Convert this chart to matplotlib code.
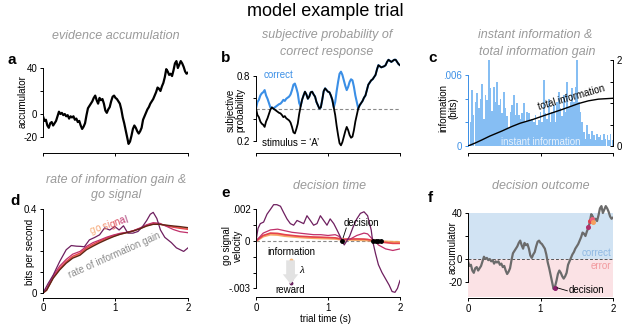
import numpy as np
import matplotlib
matplotlib.use('Agg')
import matplotlib.pyplot as plt
from matplotlib.textpath import TextToPath
from matplotlib.font_manager import FontProperties

plt.rcParams['font.family'] = ['Liberation Sans', 'DejaVu Sans']
plt.rcParams['font.size'] = 7
plt.rcParams['axes.linewidth'] = 0.7
for a in ['xtick', 'ytick']:
    plt.rcParams[a + '.major.width'] = 0.7
    plt.rcParams[a + '.major.size'] = 2.5
    plt.rcParams[a + '.major.pad'] = 1.5
    plt.rcParams[a + '.labelsize'] = 7

# ---------------- data ----------------
acc_time = np.linspace(0, 2, 101)
accumulator = [-2, -6, -5, -10, -12, -8, -7, -10, -8, -6,
               -2, 2, 0, 1, -1, 0, -2, -1, -4, -2,
               -3, -2, -5, -4, -7, -6, -10, -13, -11, -8,
               -1, 5, 7, 9, 11, 14, 16, 12, 9, 14,
               12, 13, 9, 3, 1, 4, 6, 11, 15, 16,
               14, 13, 11, 9, 4, -3, -8, -14, -20, -26,
               -24, -19, -13, -10, -12, -15, -17, -15, -12, -5,
               -2, 1, 4, 6, 9, 11, 13, 16, 19, 23,
               22, 20, 24, 27, 32, 39, 37, 34, 35, 33,
               38, 44, 46, 40, 43, 46, 44, 41, 37, 35, 36]

subj_prob = [0.50, 0.44, 0.42, 0.38, 0.36, 0.35, 0.33, 0.38, 0.41, 0.45,
             0.49, 0.51, 0.50, 0.49, 0.48, 0.47, 0.46, 0.455, 0.44, 0.42,
             0.43, 0.41, 0.40, 0.39, 0.37, 0.33, 0.28, 0.27, 0.31, 0.36,
             0.45, 0.52, 0.58, 0.62, 0.655, 0.63, 0.59, 0.61, 0.65, 0.655,
             0.63, 0.61, 0.56, 0.53, 0.50, 0.51, 0.58, 0.66, 0.686, 0.67,
             0.655, 0.65, 0.62, 0.58, 0.51, 0.44, 0.34, 0.255, 0.18, 0.16,
             0.19, 0.24, 0.29, 0.33, 0.30, 0.255, 0.23, 0.24, 0.30, 0.38,
             0.44, 0.50, 0.53, 0.55, 0.57, 0.60, 0.62, 0.67, 0.72, 0.74,
             0.76, 0.77, 0.79, 0.81, 0.86, 0.90, 0.89, 0.88, 0.885, 0.89,
             0.90, 0.93, 0.95, 0.94, 0.93, 0.94, 0.95, 0.95, 0.93, 0.91, 0.90]

instant_info = [3.5, 2.0, 4.7, 2.6, 3.7, 4.5, 3.2, 4.0, 5.2, 2.3,
                4.3, 3.9, 7.3, 4.9, 3.0, 5.0, 3.7, 5.4, 3.5, 4.0,
                2.8, 4.6, 3.2, 2.5, 1.5, 2.9, 3.5, 4.3, 2.6, 3.6,
                2.6, 2.3, 2.8, 3.6, 2.0, 2.9, 2.8, 2.2, 2.3, 2.0,
                2.6, 1.8, 2.2, 2.9, 2.0, 5.6, 2.8, 2.3, 4.0, 2.0,
                2.9, 3.5, 2.0, 3.7, 4.6, 3.2, 2.5, 4.3, 2.9, 5.4,
                3.3, 3.7, 4.9, 3.7, 5.0, 7.3, 3.7, 2.9, 2.0, 1.2,
                0.6, 1.8, 1.0, 0.6, 1.3, 0.9, 0.5, 1.0, 0.8, 0.9,
                0.5, 1.0, 0.6, 0.9, 0.5, 1.0, 0.5]  # x 1e-3 bits
total_info_t = [0, 0.1, 0.19, 0.3, 0.47, 0.6, 0.72, 0.9, 1.07, 1.3, 1.53, 1.66, 1.8, 2.0]
total_info = [0, 0.07, 0.14, 0.23, 0.35, 0.45, 0.53, 0.62, 0.72, 0.85, 0.99, 1.05, 1.09, 1.11]

rate_t = [0, 0.05, 0.14, 0.23, 0.32, 0.41, 0.51, 0.6, 0.69, 0.78, 0.88, 0.97,
          1.06, 1.15, 1.24, 1.34, 1.43, 1.52, 1.61, 1.7, 1.8, 1.89, 2.0]
rate_info = [0, 0.013, 0.07, 0.11, 0.142, 0.166, 0.18, 0.206, 0.223, 0.239, 0.255, 0.268,
             0.279, 0.287, 0.295, 0.306, 0.319, 0.327, 0.327, 0.323, 0.319, 0.316, 0.311]
go_orange = [0, 0.014, 0.072, 0.113, 0.146, 0.17, 0.185, 0.21, 0.227, 0.243, 0.258, 0.27,
             0.28, 0.287, 0.295, 0.307, 0.32, 0.328, 0.328, 0.322, 0.316, 0.312, 0.307]
go_red = [0, 0.015, 0.075, 0.118, 0.15, 0.175, 0.19, 0.215, 0.232, 0.247, 0.262, 0.273,
          0.282, 0.288, 0.295, 0.308, 0.322, 0.33, 0.328, 0.32, 0.313, 0.308, 0.303]
go_magenta = [0, 0.02, 0.082, 0.128, 0.16, 0.185, 0.198, 0.222, 0.24, 0.252, 0.266, 0.276,
              0.284, 0.289, 0.296, 0.31, 0.325, 0.335, 0.332, 0.318, 0.302, 0.292, 0.287]
purple_t = [0, 0.07, 0.14, 0.23, 0.32, 0.39, 0.46, 0.52, 0.57, 0.64, 0.71, 0.78, 0.85, 0.92,
            0.99, 1.05, 1.11, 1.17, 1.24, 1.31, 1.37, 1.43, 1.48, 1.52, 1.57, 1.62, 1.68,
            1.77, 1.84, 1.94, 2.0]
go_purple = [0, 0.045, 0.085, 0.15, 0.206, 0.226, 0.223, 0.222, 0.22, 0.253, 0.264, 0.277,
             0.31, 0.3, 0.317, 0.3, 0.32, 0.285, 0.285, 0.293, 0.315, 0.345, 0.375, 0.384,
             0.355, 0.3, 0.265, 0.24, 0.215, 0.198, 0.215]

vel_purple_t = [0, 0.028, 0.06, 0.106, 0.153, 0.2, 0.245, 0.29, 0.34, 0.384, 0.43, 0.477,
                0.523, 0.57, 0.616, 0.662, 0.708, 0.755, 0.8, 0.847, 0.894, 0.94, 0.986,
                1.03, 1.08, 1.125, 1.157, 1.2, 1.225, 1.26, 1.3, 1.35, 1.4, 1.45, 1.5,
                1.55, 1.6, 1.62, 1.66, 1.7, 1.75, 1.8, 1.85, 1.89, 1.93, 1.965, 2.0]
vel_purple = [0, 0.8, 1.1, 1.2, 1.7, 2.0, 2.3, 2.3, 2.2, 1.8, 1.4, 1.1,
              1.0, 1.3, 1.2, 1.1, 1.6, 1.3, 1.0, 1.1, 1.6, 1.3, 1.0,
              1.4, 1.1, 0.7, 0.4, 0.0, -0.25, 0.0, 0.3, 0.9, 1.4, 1.75, 1.85,
              1.6, 0.7, 0.0, -0.8, -1.5, -2.0, -2.4, -2.8, -3.2, -3.25, -3.0, -2.5]  # x 1e-3
vel_t = [0, 0.1, 0.2, 0.3, 0.4, 0.5, 0.6, 0.7, 0.8, 0.9, 1.0, 1.1, 1.15, 1.2, 1.25,
         1.3, 1.4, 1.5, 1.55, 1.6, 1.65, 1.7, 1.8, 1.9, 2.0]
vel_magenta = [0, 0.5, 0.7, 0.75, 0.65, 0.55, 0.5, 0.45, 0.4, 0.4, 0.35, 0.4, 0.3, 0.05, 0.1,
               0.1, 0.35, 0.5, 0.45, 0.2, 0.0, -0.25, -0.5, -0.6, -0.5]
vel_red = [0, 0.35, 0.5, 0.48, 0.4, 0.35, 0.3, 0.28, 0.25, 0.24, 0.22, 0.2, 0.15, 0.1, 0.11,
           0.12, 0.13, 0.12, 0.1, 0.05, 0.0, -0.05, -0.1, -0.15, -0.15]
vel_orange = [0, 0.3, 0.42, 0.4, 0.33, 0.29, 0.25, 0.22, 0.2, 0.18, 0.17, 0.15, 0.12, 0.1, 0.09,
              0.09, 0.08, 0.06, 0.05, 0.03, 0.01, -0.02, -0.05, -0.07, -0.08]

decision_e_t = [1.2, 1.62, 1.66, 1.70, 1.74]
decision_f_t = [1.2, 1.65, 1.68, 1.71, 1.73]
decision_f_v = [-25, 27.6, 33, 34.8, 32.4]

# colours
PURPLE = '#6e1f5f'
MAGENTA = '#c0306a'
RED = '#e5424d'
ORANGE = '#f5a05a'
BROWN = '#5e2418'
GRAY_T = '#9a9a9a'
BLUE = '#3b8fe6'

W, H = 623, 329
fig = plt.figure(figsize=(W / 100, H / 100), dpi=100)


def add_ax(x0, y0, x1, y1):
    return fig.add_axes([x0 / W, 1 - y1 / H, (x1 - x0) / W, (y1 - y0) / H])


def ftext(x, y, s, **kw):
    return fig.text(x / W, 1 - y / H, s, **kw)


def style(ax, ylim, yticks, ylabels, ybounds, out_px, xlabels=False):
    ax.set_xlim(0, 2)
    ax.set_ylim(*ylim)
    for s in ['top', 'right']:
        ax.spines[s].set_visible(False)
    ax.spines['bottom'].set_position(('outward', out_px * 0.72))
    ax.spines['bottom'].set_bounds(0, 2)
    ax.spines['left'].set_bounds(*ybounds)
    ax.set_xticks([0, 1, 2])
    ax.set_xticklabels(['0', '1', '2'] if xlabels else ['', '', ''])
    ax.set_yticks(yticks)
    ax.set_yticklabels(ylabels)
    ax.patch.set_alpha(0)


# ---------------- a ----------------
axa = add_ax(43, 58.8, 188, 148.5)
axa.plot(acc_time, accumulator, color='black', lw=1.6)
style(axa, (-30, 48), [-20, 0, 20, 40], ['-20', '0', '', '40'], (-20, 40), 4.5)

# ---------------- b ----------------
axb = add_ax(256, 57.6, 400, 147.5)
p = np.array(subj_prob)
correct = np.maximum(p, 1 - p)
axb.axhline(0.5, color='#8a8a8a', lw=0.8, ls=(0, (3, 2)))
axb.plot(acc_time, correct, color=BLUE, lw=1.5)
axb.plot(acc_time, p, color='black', lw=1.3)
style(axb, (0.14, 0.97), [0.2, 0.4, 0.6, 0.8], ['0.2', '', '', '0.8'], (0.2, 0.8), 5.5)
axb.text(0.1, 0.81, 'correct', color=BLUE, fontsize=7, va='center')
axb.text(0.08, 0.18, 'stimulus = \u2018A\u2019', color='black', fontsize=7, va='center')

# ---------------- c ----------------
axc = add_ax(468, 60, 613, 146)
bar_t = np.linspace(0.01, 1.99, len(instant_info))
axc.bar(bar_t, np.array(instant_info) * 1e-3, width=0.021, color='#86bef3', lw=0)
style(axc, (0, 0.00727), [0, 0.002, 0.004, 0.006], ['0', '', '', '.006'], (0, 0.006), 7)
axc.spines['left'].set_color(BLUE)
axc.tick_params(axis='y', colors=BLUE)
axc2 = axc.twinx()
axc2.set_ylim(0, 2)
axc2.set_xlim(0, 2)
axc2.plot(total_info_t, total_info, color='black', lw=1.0)
for s in ['top', 'left', 'bottom']:
    axc2.spines[s].set_visible(False)
axc2.spines['right'].set_bounds(0, 2)
axc2.set_yticks([0, 0.5, 1, 1.5, 2])
axc2.set_yticklabels(['0', '', '', '', '2'])
axc2.tick_params(axis='y', direction='in', length=2.5, pad=2.5, labelsize=7, colors='black')
axc.text(1.0, 0.00036, 'instant information', color='#e8f2fd', fontsize=7, ha='center', va='center')
axc.text(1.43, 0.0041, 'total information', color='black', fontsize=7, ha='center', va='center',
         rotation=16, rotation_mode='anchor')

# ---------------- d ----------------
axd = add_ax(43, 209, 188, 293)
axd.plot(rate_t, go_orange, color=ORANGE, lw=1.0)
axd.plot(rate_t, go_red, color=RED, lw=1.0)
axd.plot(rate_t, go_magenta, color=MAGENTA, lw=0.9)
axd.plot(purple_t, go_purple, color=PURPLE, lw=0.9)
axd.plot(rate_t, rate_info, color=BROWN, lw=1.0)
style(axd, (0, 0.4), [0, 0.1, 0.2, 0.3, 0.4], ['0', '', '', '', '0.4'], (0, 0.4), 4.5, xlabels=True)
ftext(114, 255, 'rate of information gain', color='#8c8c8c', fontsize=7, ha='center', va='center',
      rotation=24, rotation_mode='anchor')
fp = FontProperties(family='Liberation Sans', size=7)
ttp = TextToPath()
gs = 'go signal'
gcols = ['#f8b07a', '#f6a070', None, '#f28a66', '#ee7460', '#e55a5a', '#d84458', '#c0306a', '#9a2a6a']
ang = 18
for i, ch in enumerate(gs):
    if ch == ' ':
        continue
    w = ttp.get_text_width_height_descent(gs[:i], fp, ismath=False)[0] if i > 0 else 0
    wpx = w * 100 / 72
    xp = 91 + wpx * np.cos(np.deg2rad(ang))
    yp = 234 - wpx * np.sin(np.deg2rad(ang))
    ftext(xp, yp, ch, color=gcols[i], fontproperties=fp, rotation=ang, rotation_mode='anchor',
          ha='left', va='baseline')

# ---------------- e ----------------
axe = add_ax(256, 203.1, 400, 293.1)
axe.axhline(0, color='#8a8a8a', lw=0.8, ls=(0, (3, 2)))
axe.plot(vel_t, np.array(vel_orange) * 1e-3, color=ORANGE, lw=1.8, alpha=0.9)
axe.plot(vel_t, np.array(vel_red) * 1e-3, color=RED, lw=1.2)
axe.plot(vel_t, np.array(vel_magenta) * 1e-3, color=MAGENTA, lw=0.9)
axe.plot(vel_purple_t, np.array(vel_purple) * 1e-3, color=PURPLE, lw=0.9)
axe.plot(decision_e_t[1:], [0] * 4, color='black', lw=1.5)
axe.plot(decision_e_t, [0] * 5, 'o', color='black', ms=2.5)
style(axe, (-0.0033, 0.0024), [-0.003, -0.002, -0.001, 0, 0.001, 0.002],
      ['-.003', '', '', '0', '', '.002'], (-0.003, 0.002), 3.9, xlabels=True)
axe.text(1.47, 0.00114, 'decision', fontsize=7, ha='center', va='center')
axe.plot([1.254, 1.21], [0.00082, 0.0002], color='black', lw=0.6)
axe.text(0.486, -0.0007, 'information', fontsize=7, ha='center', va='center')
axe.annotate('', xy=(0.48, -0.0029), xytext=(0.48, -0.00105),
             arrowprops=dict(arrowstyle='simple,head_width=1.6,head_length=1.0,tail_width=0.9',
                             color='#e2e2e2', lw=0))
dot_cols = ['#f8b77a', '#f29a6a', '#ec6f5a', '#e0404f', '#c3305e', '#9a2a66', '#6a1f5e']
for k, c in enumerate(dot_cols):
    axe.plot(0.48, -0.0012 - k * 0.00024, 'o', color=c, ms=1.8, clip_on=False)
axe.text(0.63, -0.0019, '\u03bb', fontsize=8, family='Liberation Serif', style='italic',
         ha='center', va='center')
axe.text(0.48, -0.0031, 'reward', fontsize=7, ha='center', va='center', clip_on=False)

# ---------------- f ----------------
axf = add_ax(468, 201.5, 613, 297)
axf.axhspan(0, 40, color='#d1e3f3', lw=0)
axf.axhspan(-33, 0, color='#fbe2e5', lw=0)
axf.axhline(0, color='#555555', lw=0.7, ls=(0, (3, 2)))
axf.plot(acc_time, accumulator, color='#6b6b6b', lw=1.6)
fcols = ['#8a1f6a', '#b0306a', '#e04050', '#ee5f7a', '#f5a060']
for tt, vv, c in zip(decision_f_t, decision_f_v, fcols):
    axf.plot(tt, vv, 'o', color=c, ms=2.6)
style(axf, (-33, 50), [-20, 0, 20, 40], ['-20', '0', '', '40'], (-20, 40), 1, xlabels=True)
axf.text(1.775, 5.2, 'correct', color='#8fb8e2', fontsize=7, ha='center', va='center')
axf.text(1.83, -6.1, 'error', color='#f29a9e', fontsize=7, ha='center', va='center')
axf.text(1.63, -27, 'decision', fontsize=7, ha='center', va='center')
axf.plot([1.23, 1.37], [-25, -27.6], color='black', lw=0.6)

# ---------------- labels ----------------
ylab = dict(fontsize=7, rotation=90, ha='center', va='center', multialignment='center')
ftext(23, 102, 'accumulator', **ylab)
ftext(235.5, 110, 'subjective\nprobability', linespacing=1.0, **ylab)
ftext(448.5, 108, 'information\n(bits)', linespacing=1.0, **ylab)
ftext(30, 252, 'bits per second', **ylab)
ftext(232.5, 246, 'go signal\nvelocity', linespacing=1.0, **ylab)
ftext(452.7, 248, 'accumulator', **ylab)
ftext(325, 319, 'trial time (s)', fontsize=7, ha='center', va='center')

ftext(325, 12, 'model example trial', fontsize=13, ha='center', va='center')
sub = dict(fontsize=9, style='italic', color=GRAY_T, ha='center', va='center')
ftext(116, 36, 'evidence accumulation', **sub)
ftext(327, 35, 'subjective probability of', **sub)
ftext(327, 52, 'correct response', **sub)
ftext(535, 35, 'instant information &', **sub)
ftext(537, 52, 'total information gain', **sub)
ftext(116, 180, 'rate of information gain &', **sub)
ftext(116, 195, 'go signal', **sub)
ftext(329.5, 186, 'decision time', **sub)
ftext(541, 186, 'decision outcome', **sub)

let = dict(fontsize=11, weight='bold', ha='left', va='baseline')
ftext(8, 64, 'a', **let)
ftext(220.5, 61.5, 'b', **let)
ftext(428, 62, 'c', **let)
ftext(10, 205, 'd', **let)
ftext(221.5, 197, 'e', **let)
ftext(428, 202, 'f', **let)

fig.savefig('out.png', dpi=100)
